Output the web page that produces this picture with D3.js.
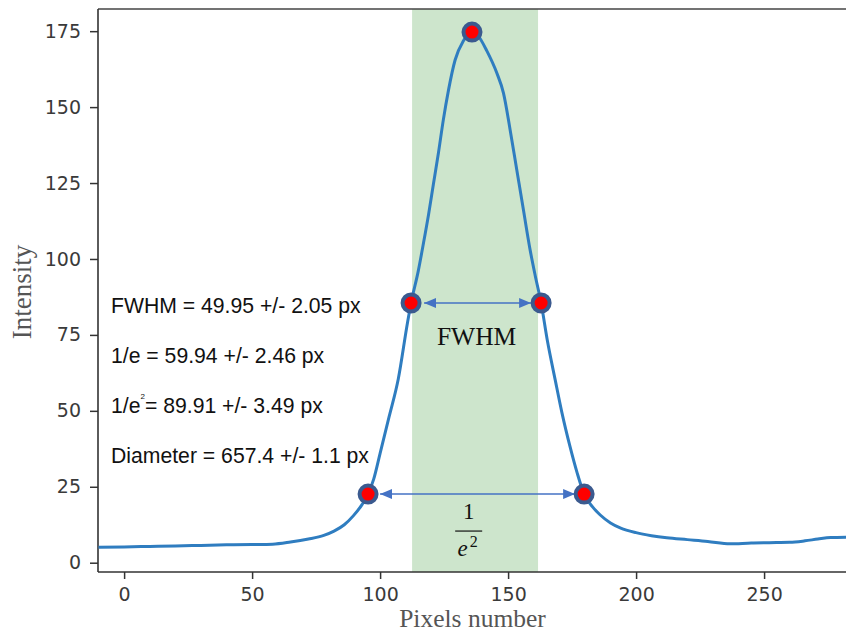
<!DOCTYPE html>
<html>
<head>
<meta charset="utf-8">
<script src="https://cdn.jsdelivr.net/npm/d3@7"></script>
<style>
  html, body { margin: 0; padding: 0; background: #fff; }
  svg { display: block; }
</style>
</head>
<body>
<svg id="chart" width="846" height="633"></svg>
<script>
// ---- data ----
const profileX = [-10, 0, 10, 20, 30, 40, 50, 58, 65, 72, 78, 82, 86, 89.6, 93, 95.3, 97.5, 100, 103.5, 107.1, 110.7, 112.1, 114.9, 116.9, 118.9, 120.8, 122.8, 124.7, 126.7, 129.3, 132.5, 136, 138.5, 141.7, 145.6, 148.2, 150.8, 153.4, 156, 158.6, 160.6, 162.9, 165.3, 168.4, 171, 174.2, 177, 179.7, 183, 186, 190, 194, 200, 206, 212, 220, 228, 236.7, 245, 252, 260, 266, 271, 276, 282];
const profileY = [5.1, 5.2, 5.35, 5.5, 5.7, 5.9, 6.0, 6.1, 6.8, 7.8, 9.0, 10.4, 12.5, 15.5, 19.2, 22.6, 27.5, 36, 48, 60.5, 79, 85.5, 96, 105, 114.5, 124.5, 135, 145.8, 155.5, 165.5, 171.8, 174.7, 173.2, 168.5, 161.2, 154.6, 142.5, 129.3, 116.1, 103, 94.5, 85.5, 73.3, 60.2, 49.5, 38.2, 29.5, 22.6, 18.4, 15.7, 13.1, 11.4, 9.9, 8.9, 8.2, 7.6, 7.0, 6.2, 6.5, 6.6, 6.7, 7.2, 7.8, 8.3, 8.4];
const markerX = [95.3, 112.1, 135.9, 162.9, 179.7];
const markerY = [22.6, 85.5, 174.7, 85.5, 22.6];
const bandRange = [112.5, 161.7];
const fwhmArrow = [112.1, 162.9, 85.5];
const e2Arrow = [95.3, 179.7, 22.6];
const xTicks = [0, 50, 100, 150, 200, 250];
const yTicks = [0, 25, 50, 75, 100, 125, 150, 175];
const statsLines = [
  ["FWHM = 49.95 +/- 2.05 px"],
  ["1/e = 59.94 +/- 2.46 px"],
  ["1/e", "2", "= 89.91 +/- 3.49 px"],
  ["Diameter = 657.4 +/- 1.1 px"]
];
const xLabel = "Pixels number";
const yLabel = "Intensity";

// ---- layout ----
const pL = 98, pR = 846, pT = 9, pB = 572;
const x = d3.scaleLinear().domain([-10.2, 282]).range([pL, pR]);
const y = d3.scaleLinear().domain([-3.06, 182.3]).range([pB, pT]);

const svg = d3.select("#chart");
const blue = "#4472c4";

// defs: arrowheads
const defs = svg.append("defs");
defs.append("marker").attr("id", "ah").attr("viewBox", "0 0 12 10")
  .attr("refX", 12).attr("refY", 5).attr("markerWidth", 12).attr("markerHeight", 10)
  .attr("markerUnits", "userSpaceOnUse").attr("orient", "auto-start-reverse")
  .append("path").attr("d", "M0,0 L12,5 L0,10 Z").attr("fill", blue);
defs.append("clipPath").attr("id", "clip").append("rect")
  .attr("x", pL).attr("y", pT).attr("width", pR - pL).attr("height", pB - pT);

// green band
svg.append("rect")
  .attr("x", x(bandRange[0])).attr("y", pT)
  .attr("width", x(bandRange[1]) - x(bandRange[0])).attr("height", pB - pT)
  .attr("fill", "#cde5cc");

// axes
const yAxis = d3.axisLeft(y).tickValues(yTicks).tickSize(8).tickPadding(9);
const xAxis = d3.axisBottom(x).tickValues(xTicks).tickSize(7).tickPadding(9);
const gy = svg.append("g").attr("transform", `translate(${pL},0)`).call(yAxis);
const gx = svg.append("g").attr("transform", `translate(0,${pB})`).call(xAxis);
[gx, gy].forEach(g => {
  g.select(".domain").remove();
  g.selectAll(".tick line").attr("stroke", "#333").attr("stroke-width", 1.5);
  g.selectAll(".tick text").attr("fill", "#3a3a3a")
    .style("font-family", "'DejaVu Sans', sans-serif").style("font-size", "19px");
});

// spines
svg.append("line").attr("x1", pL).attr("x2", pR).attr("y1", pT).attr("y2", pT)
  .attr("stroke", "#444").attr("stroke-width", 1.6);
svg.append("line").attr("x1", pL).attr("x2", pL).attr("y1", pT).attr("y2", pB)
  .attr("stroke", "#333").attr("stroke-width", 1.6);
svg.append("line").attr("x1", pL).attr("x2", pR).attr("y1", pB).attr("y2", pB)
  .attr("stroke", "#333").attr("stroke-width", 1.6);

// profile line
const line = d3.line().x((d, i) => x(profileX[i])).y((d, i) => y(profileY[i])).curve(d3.curveMonotoneX);
svg.append("path").datum(profileY).attr("d", line)
  .attr("clip-path", "url(#clip)")
  .attr("fill", "none").attr("stroke", "#2f7dc0").attr("stroke-width", 3);

// arrows
function arrow(a, gapL, gapR) {
  svg.append("line")
    .attr("x1", x(a[0]) + gapL).attr("x2", x(a[1]) - gapR)
    .attr("y1", y(a[2])).attr("y2", y(a[2]))
    .attr("stroke", blue).attr("stroke-width", 1.6)
    .attr("marker-start", "url(#ah)").attr("marker-end", "url(#ah)");
}
arrow(fwhmArrow, 13, 10);
arrow(e2Arrow, 12, 9);

// markers
svg.append("g").selectAll("circle").data(markerX).join("circle")
  .attr("cx", d => x(d)).attr("cy", (d, i) => y(markerY[i]))
  .attr("r", 8.5).attr("fill", "#ff0000").attr("stroke", "#3b5a8f").attr("stroke-width", 4);

// stats text
const stats = svg.append("g").style("font-family", "'Liberation Sans', Arial, sans-serif")
  .style("font-size", "21.2px").attr("fill", "#111");
statsLines.forEach((parts, i) => {
  const t = stats.append("text").attr("x", 111).attr("y", 313 + i * 50);
  if (parts.length === 1) {
    t.text(parts[0]);
  } else {
    t.append("tspan").text(parts[0]);
    t.append("tspan").text(parts[1]).attr("dy", -14).style("font-size", "8px");
    t.append("tspan").text(parts[2]).attr("dy", 14);
  }
});

// FWHM label
svg.append("text").attr("x", (x(fwhmArrow[0]) + x(fwhmArrow[1])) / 2 + 0.5).attr("y", y(fwhmArrow[2]) + 42)
  .attr("text-anchor", "middle").style("font-family", "'Liberation Serif', 'Times New Roman', serif")
  .style("font-size", "25.5px").attr("fill", "#111").text("FWHM");

// 1/e^2 fraction label
const fx = x(134.6), fy = y(e2Arrow[2]);
svg.append("text").attr("x", fx).attr("y", fy + 25).attr("text-anchor", "middle")
  .style("font-family", "'Liberation Serif', serif").style("font-size", "23px").attr("fill", "#111").text("1");
svg.append("line").attr("x1", fx - 13.5).attr("x2", fx + 13.5).attr("y1", fy + 37).attr("y2", fy + 37)
  .attr("stroke", "#111").attr("stroke-width", 1.2);
const e2 = svg.append("text").attr("x", fx - 1).attr("y", fy + 62).attr("text-anchor", "middle")
  .style("font-family", "'Liberation Serif', serif").attr("fill", "#111");
e2.append("tspan").text("e").style("font-style", "italic").style("font-size", "23px");
e2.append("tspan").text("2").attr("dx", 2).attr("dy", -9).style("font-size", "16px");

// axis labels
svg.append("text").attr("x", 472.5).attr("y", 627)
  .attr("text-anchor", "middle").style("font-family", "'Liberation Serif', serif")
  .style("font-size", "25.5px").attr("fill", "#555").text(xLabel);
svg.append("text").attr("transform", "translate(31,292) rotate(-90)")
  .attr("text-anchor", "middle").style("font-family", "'Liberation Serif', serif")
  .style("font-size", "27px").attr("fill", "#555").text(yLabel);
</script>
</body>
</html>
